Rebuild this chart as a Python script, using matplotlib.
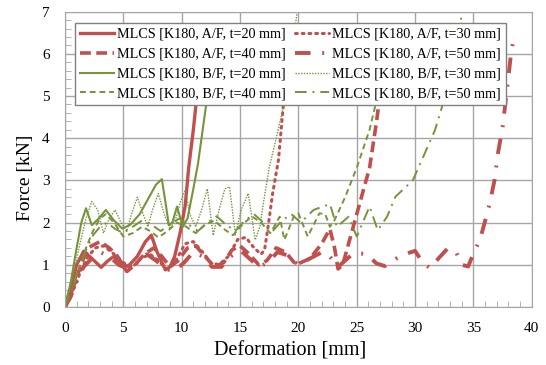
import matplotlib
matplotlib.use("Agg")
import matplotlib.pyplot as plt
from matplotlib.ticker import MultipleLocator

plt.rcParams['font.family'] = ['Liberation Serif', 'DejaVu Serif']

RED = '#C0504D'
GREEN = '#77933C'

# ---- data: deformation [mm], force [kN] ----
af20_x = [0, 0.5, 1.0, 1.6, 2.3, 3.1, 3.7, 4.2, 4.8, 5.4, 6.2, 6.9, 7.4, 7.9, 8.6, 9.0, 9.4, 9.9, 10.3, 10.6, 11.0, 11.3, 11.6]
af20_y = [0, 0.45, 1.0, 1.32, 1.15, 0.94, 1.1, 1.2, 1.05, 0.96, 1.2, 1.55, 1.7, 1.3, 0.88, 0.95, 1.2, 1.8, 2.4, 3.3, 4.2, 5.0, 5.8]

af30_x = [0, 0.5, 1.0, 1.5, 2.0, 2.6, 3.3, 4.0, 5.0, 5.8, 6.5, 7.3, 8.0, 8.7, 9.5, 10.3, 11.0, 11.8, 12.5, 13.2, 14.0, 14.8, 15.5, 16.2, 16.8, 17.1, 17.4, 17.8, 18.3, 18.7, 19.1]
af30_y = [0, 0.25, 0.6, 0.95, 1.2, 1.4, 1.45, 1.3, 1.05, 0.95, 1.15, 1.25, 1.1, 0.9, 1.1, 1.5, 1.55, 1.3, 1.05, 1.0, 1.2, 1.6, 1.65, 1.4, 1.25, 1.35, 1.9, 2.7, 3.5, 4.75, 5.9]

af40_x = [0, 0.5, 1.0, 1.5, 2.1, 3.0, 3.8, 4.5, 5.3, 6.0, 6.8, 7.6, 8.3, 9.0, 9.7, 10.5, 11.2, 12.0, 12.8, 13.6, 14.3, 15.0, 15.8, 16.6, 17.3, 18.1, 18.9, 19.8, 21.0, 22.0, 22.7, 23.1, 23.4, 23.8, 24.3, 24.8, 25.4, 26.1, 26.7, 27.2]
af40_y = [0, 0.3, 0.7, 1.1, 1.42, 1.55, 1.4, 1.2, 0.84, 1.0, 1.25, 1.4, 1.2, 0.95, 1.1, 1.4, 1.45, 1.2, 0.95, 1.05, 1.35, 1.45, 1.25, 1.0, 1.1, 1.4, 1.3, 1.0, 1.15, 1.5, 1.85, 1.4, 0.9, 1.0, 1.5, 2.0, 2.6, 3.3, 4.4, 5.5]

af50_x = [0, 0.5, 1.0, 1.6, 2.3, 3.0, 3.8, 4.6, 5.4, 6.2, 7.0, 7.8, 8.6, 9.4, 10.2, 11.0, 11.8, 12.6, 13.4, 14.2, 15.0, 15.8, 16.6, 17.4, 18.2, 19.0, 20.0, 21.0, 22.1, 22.6, 23.4, 24.7, 25.8, 26.7, 27.4, 28.4, 29.1, 30.0, 30.7, 31.3, 32.0, 32.8, 33.5, 34.0, 34.55, 35.0, 35.55, 36.1, 36.4, 36.8, 37.1, 37.5, 38.0, 38.25, 38.5]
af50_y = [0, 0.25, 0.6, 0.95, 1.15, 1.3, 1.2, 1.0, 0.9, 1.05, 1.25, 1.1, 0.9, 0.85, 1.05, 1.3, 1.2, 0.95, 0.95, 1.2, 1.35, 1.15, 0.95, 1.05, 1.3, 1.23, 1.0, 1.15, 1.31, 1.23, 0.95, 1.27, 1.26, 1.03, 0.97, 1.15, 1.25, 1.33, 1.03, 0.92, 1.15, 1.39, 1.31, 1.0, 0.96, 1.27, 1.59, 2.14, 2.46, 3.0, 3.64, 4.27, 5.46, 6.09, 6.4]

bf20_x = [0, 0.5, 1.0, 1.4, 1.8, 2.3, 2.9, 3.5, 4.2, 4.9, 5.6, 6.4, 7.2, 7.8, 8.3, 8.6, 8.9, 9.2, 9.6, 10.1, 10.5, 11.0, 11.4, 11.8, 12.2, 12.5]
bf20_y = [0, 0.6, 1.4, 2.0, 2.34, 1.94, 2.1, 2.3, 2.05, 1.86, 1.95, 2.2, 2.6, 2.9, 3.03, 2.5, 1.94, 2.0, 2.38, 1.9, 2.1, 2.8, 3.4, 4.2, 5.0, 5.8]

bf30_x = [0, 0.6, 1.2, 1.8, 2.3, 2.8, 3.3, 3.8, 4.3, 4.8, 5.3, 5.7, 6.2, 6.7, 7.1, 7.5, 8.0, 8.5, 9.0, 9.5, 9.9, 10.3, 10.7, 11.2, 11.7, 12.2, 12.7, 13.2, 13.7, 14.1, 14.6, 15.1, 15.7, 16.3, 16.7, 17.0, 17.5, 18.1, 18.8, 19.4, 19.9]
bf30_y = [0, 0.6, 1.4, 2.1, 2.5, 2.3, 1.75, 2.1, 2.3, 2.0, 1.8, 2.2, 2.6, 2.2, 1.9, 2.3, 2.69, 2.2, 1.85, 2.1, 2.5, 2.77, 2.2, 1.9, 2.3, 2.8, 1.7, 2.3, 2.8, 2.85, 1.71, 2.3, 2.69, 1.59, 1.9, 2.46, 3.3, 4.0, 4.85, 6.0, 7.0]

bf40_x = [0, 0.6, 1.2, 1.8, 2.4, 3.0, 3.5, 4.2, 5.0, 5.8, 6.6, 7.3, 8.0, 8.8, 9.6, 10.4, 11.2, 12.0, 12.8, 13.6, 14.4, 15.2, 16.0, 16.8, 17.6, 18.4, 18.8, 19.6, 20.0, 20.8, 21.8, 22.3, 22.7, 23.1, 24.0, 25.0, 26.1, 26.7, 27.3]
bf40_y = [0, 0.4, 0.9, 1.4, 1.8, 2.1, 2.2, 2.0, 1.67, 1.75, 1.9, 1.8, 1.65, 1.8, 2.0, 1.9, 1.75, 1.95, 2.05, 1.85, 1.7, 1.95, 2.15, 2.0, 1.75, 2.14, 1.59, 2.14, 2.22, 1.67, 2.22, 2.2, 1.9, 2.06, 2.6, 3.3, 4.2, 4.9, 5.8]

bf50_x = [0, 0.6, 1.2, 1.8, 2.4, 3.0, 3.6, 4.3, 5.0, 5.8, 6.6, 7.4, 8.2, 9.0, 9.8, 10.6, 11.4, 12.2, 13.0, 13.8, 14.6, 15.4, 16.2, 17.0, 17.8, 18.6, 19.4, 20.2, 21.3, 22.7, 23.3, 24.3, 25.0, 26.1, 26.8, 27.6, 28.3, 29.8, 30.7, 31.7, 32.4, 33.2, 34.0]
bf50_y = [0, 0.4, 0.9, 1.35, 1.7, 1.9, 2.0, 1.85, 1.75, 1.9, 2.05, 1.95, 1.8, 1.95, 2.1, 1.95, 1.8, 2.0, 2.15, 1.95, 1.8, 2.05, 2.2, 2.0, 1.8, 2.05, 2.2, 2.0, 2.3, 2.44, 1.9, 2.14, 1.67, 2.38, 1.82, 2.14, 2.61, 3.0, 3.56, 4.19, 4.83, 5.9, 6.9]

series = [
    (af20_x, af20_y, 'MLCS [K180, A/F, t=20 mm]', dict(color=RED, lw=2.4, ls='-')),
    (af40_x, af40_y, 'MLCS [K180, A/F, t=40 mm]', dict(color=RED, lw=2.6, ls=(0, (3, 1.5)))),
    (bf20_x, bf20_y, 'MLCS [K180, B/F, t=20 mm]', dict(color=GREEN, lw=1.5, ls='-')),
    (bf40_x, bf40_y, 'MLCS [K180, B/F, t=40 mm]', dict(color=GREEN, lw=1.4, ls=(0, (3, 2)))),
    (af30_x, af30_y, 'MLCS [K180, A/F, t=30 mm]', dict(color=RED, lw=2.2, ls=(0, (0.6, 1.6)), dash_capstyle='round')),
    (af50_x, af50_y, 'MLCS [K180, A/F, t=50 mm]', dict(color=RED, lw=2.8, ls=(0, (4, 3, 0.5, 3)))),
    (bf30_x, bf30_y, 'MLCS [K180, B/F, t=30 mm]', dict(color=GREEN, lw=1.0, ls=(0, (1, 1)))),
    (bf50_x, bf50_y, 'MLCS [K180, B/F, t=50 mm]', dict(color=GREEN, lw=1.4, ls=(0, (6, 3, 1, 3)))),
]

fig = plt.figure(figsize=(5.46, 3.65), dpi=100)
ax = fig.add_axes([0.119, 0.159, 0.855, 0.809])

for x, y, label, style in series:
    ax.plot(x, y, label=label, **style)

ax.set_xlim(0, 40)
ax.set_ylim(0, 7)
ax.xaxis.set_major_locator(MultipleLocator(5))
ax.xaxis.set_minor_locator(MultipleLocator(1))
ax.yaxis.set_major_locator(MultipleLocator(1))
ax.yaxis.set_minor_locator(MultipleLocator(0.2))
ax.grid(True, which='major', color='#A6A6A6', lw=1.0)
ax.set_axisbelow(True)
for s in ax.spines.values():
    s.set_color('#A6A6A6')
ax.tick_params(which='both', direction='in', colors='#A6A6A6', labelcolor='black', labelsize=11)
ax.tick_params(which='major', length=0)
ax.tick_params(which='minor', length=4)
ax.tick_params(axis='x', which='major', pad=11)
ax.tick_params(axis='y', which='major', pad=11)

ax.set_xlabel('Deformation [mm]', fontsize=14.5)
ax.set_ylabel('Force [kN]', fontsize=14)
ax.xaxis.set_label_coords(0.482, -0.118)
ax.yaxis.set_label_coords(-0.066, 0.436)

leg = ax.legend(loc='upper left', bbox_to_anchor=(0.021, 0.962), ncol=2, fontsize=10.2,
                frameon=True, fancybox=False, edgecolor='#808080', framealpha=1,
                handlelength=2.4, handletextpad=0.25, columnspacing=0.6,
                labelspacing=0.48, borderpad=0.35, borderaxespad=0)
leg.get_frame().set_linewidth(1.0)

fig.savefig('out.png', dpi=100)
